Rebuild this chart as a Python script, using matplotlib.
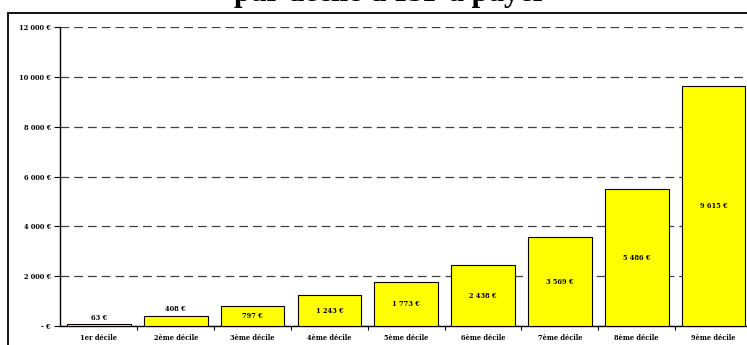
import matplotlib
matplotlib.use("Agg")
import matplotlib.pyplot as plt
from matplotlib.patches import Rectangle

# data
categories = ["1er décile", "2ème décile", "3ème décile", "4ème décile",
              "5ème décile", "6ème décile", "7ème décile", "8ème décile",
              "9ème décile"]
values = [63, 408, 797, 1243, 1773, 2438, 3569, 5486, 9615]
value_labels = ["63 €", "408 €", "797 €", "1 243 €", "1 773 €", "2 438 €",
                "3 569 €", "5 486 €", "9 615 €"]
y_ticks = [0, 2000, 4000, 6000, 8000, 10000, 12000]
y_tick_labels = ["- €", "2 000 €", "4 000 €", "6 000 €", "8 000 €",
                 "10 000 €", "12 000 €"]
title = "par décile d'ISF à payer"

small = ["DejaVu Serif"]
fs = 4.8

fig = plt.figure(figsize=(7.47, 3.45), dpi=100)
ax = fig.add_axes([60.5 / 747, 19 / 345, 691.5 / 747, 299 / 345])

x = range(len(categories))
ax.bar(x, values, width=0.83, color="#FFFF00", edgecolor="black",
       linewidth=0.8, zorder=3)

# labels: inside for tall bars, above for the small ones
for i, (v, lab) in enumerate(zip(values, value_labels)):
    if v < 500:
        ax.annotate(lab, (i, v), xytext=(0, 2), textcoords="offset points",
                    ha="center", va="bottom", fontsize=fs,
                    fontweight="bold", family=small, zorder=4)
    else:
        ax.text(i, v / 2, lab, ha="center", va="center", fontsize=fs,
                fontweight="bold", family=small, zorder=4)

ax.set_xlim(-0.5, len(categories) - 0.5)
ax.set_ylim(0, 12000)
ax.set_yticks(y_ticks)
ax.set_yticklabels(y_tick_labels, fontsize=fs, fontweight="bold",
                   family=small)
ax.set_xticks(list(x))
ax.set_xticklabels(categories, fontsize=fs, fontweight="bold",
                   family=small)
ax.tick_params(axis="x", length=0, pad=6)
ax.tick_params(axis="y", length=4, width=0.8, pad=3)
# tick marks between categories
ax.set_xticks([i + 0.5 for i in x], minor=True)
ax.tick_params(axis="x", which="minor", length=3, width=0.8)

ax.yaxis.grid(True, linestyle=(0, (7, 4)), color="#404040", linewidth=0.9,
              zorder=0)
for s in ["top", "right"]:
    ax.spines[s].set_visible(False)
ax.spines["left"].set_linewidth(1.0)
ax.spines["bottom"].set_linewidth(1.0)

# outer frame of the chart area
fig.patches.append(Rectangle((8 / 747, -0.1), 1.0, (332 / 345) + 0.1,
                             transform=fig.transFigure, fill=False,
                             edgecolor="black", linewidth=1.3))

# title is partly above the picture in the original
fig.text(390 / 747, 337 / 345, title, ha="center", va="bottom",
         fontsize=22, fontweight="bold", family=["Liberation Serif"])

fig.savefig("out.png", dpi=100)
